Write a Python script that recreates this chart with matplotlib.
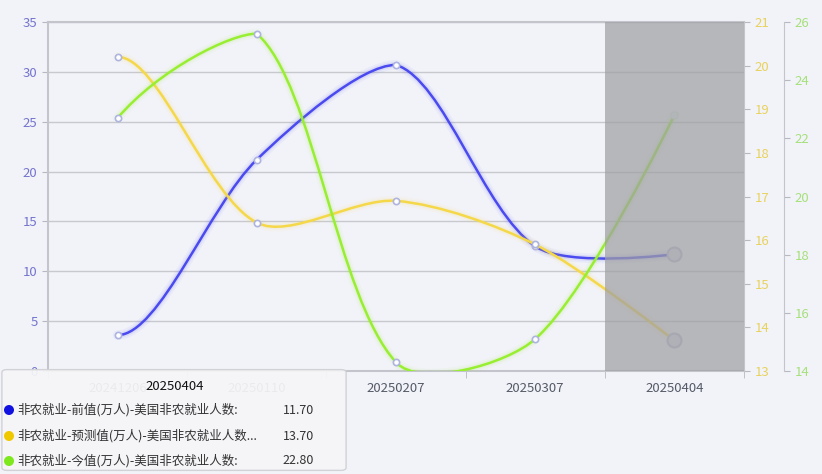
import numpy as np
import matplotlib
matplotlib.use("Agg")
import matplotlib.pyplot as plt
from matplotlib.path import Path
from matplotlib.patches import PathPatch, FancyBboxPatch, Ellipse
import matplotlib.ticker as mticker

plt.rcParams['font.family'] = ['Noto Sans CJK SC', 'DejaVu Sans']

# ---------------- data ----------------
categories = ["20241206", "20250110", "20250207", "20250307", "20250404"]
prev_vals = [3.6, 21.2, 30.7, 12.5, 11.7]       # 前值 (left axis)
fcst_vals = [20.2, 16.4, 16.9, 15.9, 13.7]      # 预测值 (right axis 1)
act_vals = [22.7, 25.6, 14.3, 15.1, 22.8]       # 今值 (right axis 2)
series_names = ["非农就业-前值(万人)-美国非农就业人数:",
                "非农就业-预测值(万人)-美国非农就业人数...",
                "非农就业-今值(万人)-美国非农就业人数:"]
tooltip_title = "20250404"
tooltip_values = ["11.70", "13.70", "22.80"]

left_ticks = [0, 5, 10, 15, 20, 25, 30, 35]
right1_ticks = [13, 14, 15, 16, 17, 18, 19, 20, 21]
right2_ticks = [14, 16, 18, 20, 22, 24, 26]

# ---------------- style ----------------
W, H = 822, 474
BG = "#f2f3f9"
C_BLUE = "#4a4af0"
C_YEL = "#f5d84a"
C_GRN = "#98ee30"
M_BLUE = "#1010e0"
M_YEL = "#f0c800"
M_GRN = "#7ee81e"

fig = plt.figure(figsize=(W / 100, H / 100), dpi=100, facecolor=BG)
ax = fig.add_axes([48 / W, 103 / H, 696 / W, 349 / H])
ax.set_facecolor(BG)
ax1 = ax.twinx()
ax2 = ax.twinx()
ax2.spines['right'].set_position(('outward', 40 * 72 / 100))

x = np.arange(len(categories))
ax.set_xlim(-0.5, len(categories) - 0.5)
ax.set_ylim(left_ticks[0], left_ticks[-1])
ax1.set_ylim(right1_ticks[0], right1_ticks[-1])
ax2.set_ylim(right2_ticks[0], right2_ticks[-1])

# grid
ax.set_yticks(left_ticks)
ax.yaxis.grid(True, color="#c8c9cf", lw=1)
ax.set_axisbelow(True)
ax.set_xticks(x)
ax.set_xticklabels(categories, color="#555a66", fontsize=9.5)
ax.xaxis.set_minor_locator(mticker.FixedLocator(np.arange(-0.5, len(categories), 1.0)))
ax.tick_params(axis='x', which='major', length=0, pad=8)
ax.tick_params(axis='x', which='minor', length=5, color="#b8b9c0")
ax.tick_params(axis='y', length=4, color="#b8b9c0", labelcolor="#7474cc", labelsize=9.5)

ax1.set_yticks(right1_ticks)
ax1.tick_params(axis='y', length=4, color="#b8b9c0", labelcolor="#e8d25c", labelsize=9.5)
ax2.set_yticks(right2_ticks)
ax2.tick_params(axis='y', length=4, color="#b8b9c0", labelcolor="#a6e07a", labelsize=9.5)

for a in (ax, ax1, ax2):
    for s in a.spines.values():
        s.set_visible(False)
for side in ('left', 'bottom', 'top'):
    ax.spines[side].set_visible(True)
    ax.spines[side].set_color("#c4c5cc")
    ax.spines[side].set_linewidth(1.5)
ax1.spines['right'].set_visible(True)
ax1.spines['right'].set_color("#c4c5cc")
ax2.spines['right'].set_visible(True)
ax2.spines['right'].set_color("#c4c5cc")


def smooth_line(a, xs, ys, color, s=0.3, k0=0.2, z=3):
    pts = a.transData.transform(np.column_stack([xs, ys]))
    top = pts[:, 1].max()
    bot = pts[:, 1].min()
    n = len(pts)
    verts = [pts[0]]
    codes = [Path.MOVETO]
    # first control point
    cy = pts[0][1] + k0 * (pts[0][1] - pts[2][1])
    cp0 = np.array([pts[0][0] + s * (pts[1][0] - pts[0][0]), min(max(cy, bot), top)])
    for i in range(1, n):
        p = pts[i]
        pr = pts[i - 1]
        if i < n - 1:
            nx = pts[i + 1]
            v = nx - pr
            lp = np.hypot(*(p - pr))
            ln = np.hypot(*(nx - p))
            r = ln / (ln + lp)
            cp1 = p - v * s * (1 - r)
            ncp0 = p + v * s * r
        else:
            cp1 = p.copy()
            ncp0 = p.copy()
        cp0 = np.array([cp0[0], min(cp0[1], top)])
        cp1 = np.array([cp1[0], min(cp1[1], top)])
        verts += [cp0, cp1, p]
        codes += [Path.CURVE4] * 3
        cp0 = ncp0
    dverts = a.transData.inverted().transform(np.array(verts))
    path = Path(dverts, codes)
    for lw, al in ((7, 0.05), (4, 0.10)):
        a.add_patch(PathPatch(path, fill=False, edgecolor=color, lw=lw, alpha=al,
                              zorder=z, capstyle='round'))
    a.add_patch(PathPatch(path, fill=False, edgecolor=color, lw=1.8, zorder=z + 0.1))
    a.plot(xs[:-1], ys[:-1], 'o', ms=4.5, mfc="white", mec="#aeb4e0", mew=1.2, zorder=z + 0.2)


smooth_line(ax1, x, fcst_vals, C_YEL, z=3)
smooth_line(ax, x, prev_vals, C_BLUE, z=3.5)
smooth_line(ax2, x, act_vals, C_GRN, z=4)

# emphasized last points
ax.plot([x[-1]], [prev_vals[-1]], 'o', ms=10, mfc="#dcdde8", mec="#b8bad8", mew=1.5, zorder=5)
ax1.plot([x[-1]], [fcst_vals[-1]], 'o', ms=10, mfc="#dcdde8", mec="#b8bad8", mew=1.5, zorder=5)
ax2.plot([x[-1]], [act_vals[-1]], 'o', ms=5, mfc="#e8f0f0", mec="#d8e8e0", mew=1, zorder=5)

# hover shadow band
ax2.axvspan(x[-1] - 0.5, x[-1] + 0.5, color="#9fa0a3", alpha=0.72, zorder=6, lw=0)

# ---------------- tooltip ----------------
def fx(px):
    return px / W


def fy(py):
    return 1 - py / H


box = FancyBboxPatch((fx(6), fy(468)), fx(336), 96 / H,
                     boxstyle="round,pad=0.005,rounding_size=0.006",
                     transform=fig.transFigure, facecolor="#f6f6f8", alpha=0.93,
                     edgecolor="#cfd0d4", lw=1, zorder=20)
fig.patches.append(box)
fig.text(fx(175), fy(386), tooltip_title, ha='center', va='center', fontsize=9.5,
         color="#111111", zorder=21)
row_y = [410, 436, 461]
mcols = [M_BLUE, M_YEL, M_GRN]
for yy, name, val, mc in zip(row_y, series_names, tooltip_values, mcols):
    fig.patches.append(Ellipse((fx(9), fy(yy)), 10 / W, 10 / H, transform=fig.transFigure,
                               facecolor=mc, edgecolor='none', zorder=21))
    fig.text(fx(17), fy(yy), name, ha='left', va='center', fontsize=9, color="#333333",
             zorder=21)
    fig.text(fx(314), fy(yy), val, ha='right', va='center', fontsize=9, color="#333333",
             zorder=21)

fig.savefig("out.png", dpi=100, facecolor=BG)
